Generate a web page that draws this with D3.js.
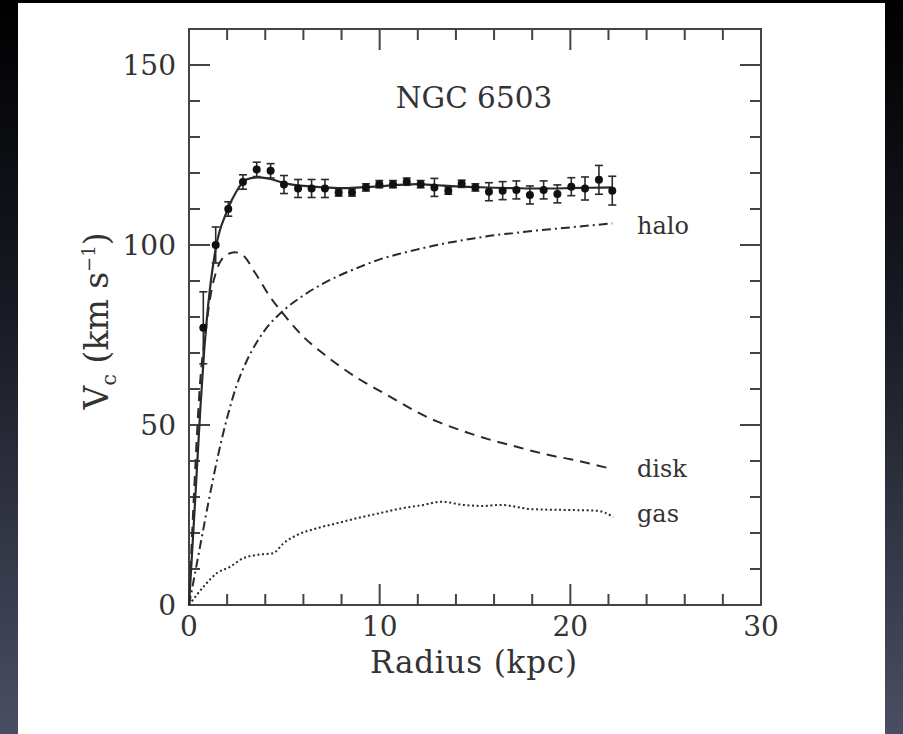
<!DOCTYPE html>
<html><head><meta charset="utf-8">
<script src="https://cdn.jsdelivr.net/npm/d3@7"></script>
<style>html,body{margin:0;padding:0;background:#000;}svg{display:block;}</style>
</head><body>
<script>
// Observed rotation curve
const obsR   = [0.75,1.4,2.06,2.83,3.55,4.28,4.98,5.72,6.43,7.13,7.85,8.55,9.28,9.98,10.7,11.42,12.15,12.87,13.6,14.3,15.02,15.73,16.45,17.17,17.88,18.6,19.32,20.05,20.77,21.5,22.2];
const obsV   = [77,100,110,117.5,121,120.6,116.8,115.7,115.7,115.7,114.6,114.6,116,116.9,116.9,117.6,116.9,116,115.1,117,116,114.8,115.1,115.3,113.9,115.3,114.2,116.2,115.7,118.1,115.1];
const obsErr = [10,5,2,2,2,2,2.5,2.5,2.5,2.5,1,1,1,1,1,1,1,2.5,1,1,1,2.5,2.5,2.5,2.5,2.5,2.5,2.5,3.2,4,4];
// Total model (solid)
const fitR = [0,0.3,0.6,0.8,1.0,1.4,2.0,2.5,3.0,3.6,4.2,5,6,7,8,9,10,11,12,13,14,15,16,17,18,19,20,21,22.2];
const fitV = [0,27,55,71,83,99,109.5,115,118.2,118.8,118.4,117.2,116.4,116,115.8,116,116.3,116.7,116.9,116.6,116.3,116.1,115.9,115.8,115.7,115.7,115.8,115.9,116];
// Disk (dashed)
const diskR = [0,0.3,0.6,0.85,1.1,1.45,1.9,2.4,2.8,3.5,4.2,5,6,7,8,9,10,11,12,13,14,15,16,17,18,19,20,21,22];
const diskV = [0,35,63,75,85,93,97,98,97.3,92,86,80.5,74.5,70,66,62.5,59.5,56.5,53.5,51,49,47.2,45.6,44.2,42.8,41.5,40.5,39.3,38];
// Halo (dash-dot)
const haloR = [0,0.5,1,1.5,2,2.5,3,3.5,4,5,6,7,8,9,10,11,12,13,14,15,16,17,18,19,20,21,22.2];
const haloV = [0,14,28,41,52,61,67.5,72.5,76.5,82,86,89.2,91.8,94,96,97.5,98.8,100,101,101.9,102.7,103.3,103.9,104.4,104.9,105.4,106];
// Gas (dotted)
const gasR = [0,0.75,1.45,2.15,2.85,3.55,4.42,4.95,5.65,6.7,7.75,8.8,10,11.2,12.3,13.2,14.4,15.4,16.3,18.05,19.8,21.4,22.25];
const gasV = [0,5,8.8,10.6,13,13.9,14.4,17.1,19.4,21.3,22.7,24.1,25.5,26.9,27.8,28.7,27.8,27.5,27.8,26.6,26.4,26.2,24.5];
// Axis ticks
const xMajor = [0,10,20,30];
const xMinor = [2,4,6,8,12,14,16,18,22,24,26,28];
const yMajor = [0,50,100,150];
const yMinor = [10,20,30,40,60,70,80,90,110,120,130,140];
const compLabels = ["halo","disk","gas"];

const W=903,H=734;
const svg=d3.select("body").append("svg").attr("width",W).attr("height",H);
const defs=svg.append("defs");
const g1=defs.append("linearGradient").attr("id","bg").attr("x1",0).attr("y1",0).attr("x2",0).attr("y2",1);
g1.append("stop").attr("offset","0%").attr("stop-color","#000000");
g1.append("stop").attr("offset","45%").attr("stop-color","#1a1c26");
g1.append("stop").attr("offset","100%").attr("stop-color","#4a4e62");
svg.append("rect").attr("width",W).attr("height",H).attr("fill","url(#bg)");
svg.append("rect").attr("x",18).attr("y",3).attr("width",867).attr("height",H-3).attr("fill","#ffffff");

const x=d3.scaleLinear().domain([0,30]).range([189,761]);
const y=d3.scaleLinear().domain([0,160]).range([605,29]);
const ink="#2a2a2a";
const font="DejaVu Serif";

// frame
svg.append("rect").attr("x",x(0)).attr("y",y(160)).attr("width",x(30)-x(0)).attr("height",y(0)-y(160))
  .attr("fill","none").attr("stroke","#444").attr("stroke-width",2);

const tk=svg.append("g").attr("stroke","#444").attr("stroke-width",2);
function xt(v,len){
  tk.append("line").attr("x1",x(v)).attr("x2",x(v)).attr("y1",y(0)).attr("y2",y(0)-len);
  tk.append("line").attr("x1",x(v)).attr("x2",x(v)).attr("y1",y(160)).attr("y2",y(160)+len);
}
function yt(v,len){
  tk.append("line").attr("y1",y(v)).attr("y2",y(v)).attr("x1",x(0)).attr("x2",x(0)+len);
  tk.append("line").attr("y1",y(v)).attr("y2",y(v)).attr("x1",x(30)).attr("x2",x(30)-len);
}
xMajor.forEach(v=>xt(v,21)); xMinor.forEach(v=>xt(v,11));
yMajor.forEach(v=>yt(v,21)); yMinor.forEach(v=>yt(v,11));

const lab=svg.append("g").attr("font-family",font).attr("font-size",28).attr("fill","#333");
xMajor.forEach(v=>lab.append("text").attr("x",x(v)).attr("y",y(0)+31).attr("text-anchor","middle").text(v));
yMajor.forEach(v=>lab.append("text").attr("x",x(0)-13).attr("y",y(v)).attr("dy","0.36em").attr("text-anchor","end").text(v));

lab.append("text").attr("x",(x(0)+x(30))/2-1).attr("y",108).attr("font-size",29.5).attr("text-anchor","middle").text("NGC 6503");

svg.append("text").attr("x",(x(0)+x(30))/2-1).attr("y",673).attr("text-anchor","middle")
  .attr("font-family",font).attr("font-size",31).attr("letter-spacing",0.8).attr("fill","#333").text("Radius (kpc)");

const yl=svg.append("text").attr("transform","translate(108,321) rotate(-90)").attr("text-anchor","middle")
  .attr("font-family",font).attr("font-size",33).attr("fill","#333");
yl.append("tspan").text("V");
yl.append("tspan").attr("font-size",21).attr("dy",8).text("c");
yl.append("tspan").attr("dy",-8).text(" (km s");
yl.append("tspan").attr("font-size",18).attr("dy",-13).text("−1");
yl.append("tspan").attr("dy",13).text(")");

// curves
const line=(R,V)=>d3.line().x((d,i)=>x(R[i])).y((d,i)=>y(V[i])).curve(d3.curveMonotoneX)(R);
const cg=svg.append("g").attr("fill","none").attr("stroke",ink).attr("stroke-width",2);
cg.append("path").attr("d",line(haloR,haloV)).attr("stroke-dasharray","9,4,2,4");
cg.append("path").attr("d",line(diskR,diskV)).attr("stroke-dasharray","10,7");
cg.append("path").attr("d",line(gasR,gasV)).attr("stroke-dasharray","2,2.6");
cg.append("path").attr("d",line(fitR,fitV)).attr("stroke-width",2.2);

// data points with error bars
const pg=svg.append("g");
obsR.forEach((r,i)=>{
  const cx=x(r), top=y(obsV[i]+obsErr[i]), bot=y(obsV[i]-obsErr[i]);
  pg.append("line").attr("x1",cx).attr("x2",cx).attr("y1",top).attr("y2",bot).attr("stroke",ink).attr("stroke-width",1.6);
  pg.append("line").attr("x1",cx-4).attr("x2",cx+4).attr("y1",top).attr("y2",top).attr("stroke",ink).attr("stroke-width",1.6);
  pg.append("line").attr("x1",cx-4).attr("x2",cx+4).attr("y1",bot).attr("y2",bot).attr("stroke",ink).attr("stroke-width",1.6);
  pg.append("circle").attr("cx",cx).attr("cy",y(obsV[i])).attr("r",4).attr("fill","#111");
});

// component labels
const cl=svg.append("g").attr("font-family",font).attr("font-size",24).attr("fill","#333");
cl.append("text").attr("x",637).attr("y",234).text(compLabels[0]);
cl.append("text").attr("x",637).attr("y",477).text(compLabels[1]);
cl.append("text").attr("x",637).attr("y",522).text(compLabels[2]);
</script>
</body></html>
